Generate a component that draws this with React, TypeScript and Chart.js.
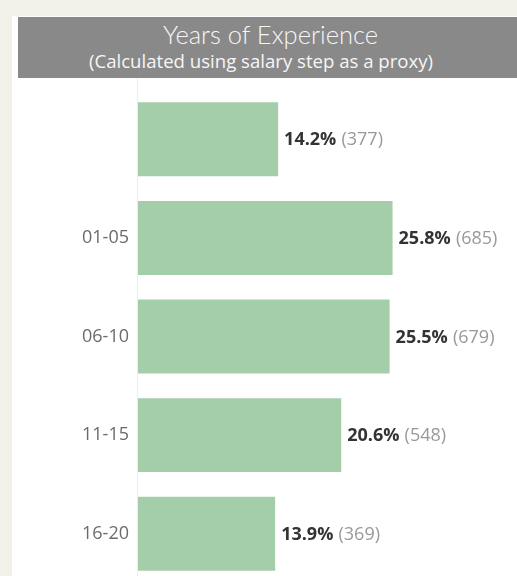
import React, { useEffect, useRef } from "react";
import { Chart, registerables } from "chart.js";

Chart.register(...registerables);

const categories = ["", "01-05", "06-10", "11-15", "16-20"];
const percentages = [14.2, 25.8, 25.5, 20.6, 13.9];
const counts = [377, 685, 679, 548, 369];
const titleText = "Years of Experience";
const subtitleText = "(Calculated using salary step as a proxy)";

const TITLE_FONT = "Lato, 'Open Sans', sans-serif";
const FONT = "'Open Sans', Lato, sans-serif";

export default function App() {
  const canvasRef = useRef<HTMLCanvasElement | null>(null);

  useEffect(() => {
    const canvas = canvasRef.current;
    if (!canvas) return;

    const axisLinePlugin = {
      id: "axisLine",
      beforeDatasetsDraw(chart: any) {
        const { ctx, chartArea } = chart;
        ctx.save();
        ctx.strokeStyle = "#ececec";
        ctx.lineWidth = 1;
        ctx.beginPath();
        const x = Math.round(chartArea.left) - 0.5;
        ctx.moveTo(x, 0);
        ctx.lineTo(x, chart.height);
        ctx.stroke();
        ctx.restore();
      },
    };

    const labelPlugin = {
      id: "barLabels",
      afterDatasetsDraw(chart: any) {
        const { ctx } = chart;
        const meta = chart.getDatasetMeta(0);
        ctx.save();
        ctx.textBaseline = "middle";
        ctx.textAlign = "left";
        meta.data.forEach((bar: any, i: number) => {
          const pct = percentages[i].toFixed(1) + "%";
          const cnt = "(" + counts[i] + ")";
          let x = bar.x + 6;
          const y = bar.y + 1;
          ctx.font = `bold 18px ${FONT}`;
          ctx.fillStyle = "#333333";
          ctx.fillText(pct, x, y);
          x += ctx.measureText(pct).width;
          ctx.font = `18px ${FONT}`;
          x += ctx.measureText(" ").width * 1.1;
          ctx.fillStyle = "#999999";
          ctx.fillText(cnt, x, y);
        });
        ctx.restore();
      },
    };

    const chart = new Chart(canvas, {
      type: "bar",
      data: {
        labels: categories,
        datasets: [
          {
            data: percentages,
            backgroundColor: "#a4cdaa",
            borderWidth: 0,
            barPercentage: 0.75,
            categoryPercentage: 1,
          },
        ],
      },
      options: {
        indexAxis: "y",
        animation: false,
        responsive: false,
        devicePixelRatio: 1,
        layout: { padding: { top: 12, bottom: 15, left: 0, right: 83 } },
        plugins: {
          legend: { display: false },
          tooltip: { enabled: false },
          title: { display: false },
        },
        scales: {
          x: {
            type: "linear",
            min: 0,
            max: 30,
            display: false,
          },
          y: {
            type: "category",
            grid: { display: false, drawTicks: false },
            border: { display: false },
            ticks: {
              color: "#6b6b6b",
              font: { family: FONT, size: 18 },
              padding: 9,
            },
            afterFit: (scale: any) => {
              scale.width = 126;
              scale.paddingTop = 0;
              scale.paddingBottom = 0;
            },
          },
        },
      },
      plugins: [axisLinePlugin, labelPlugin],
    });

    return () => chart.destroy();
  }, []);

  return (
    <div
      style={{
        position: "fixed",
        left: 0,
        top: 0,
        width: 517,
        height: 576,
        background: "#f2f1e9",
        overflow: "hidden",
        fontFamily: FONT,
      }}
    >
      <div
        style={{
          position: "absolute",
          left: 12,
          top: 16,
          width: 505,
          height: 560,
          background: "#ffffff",
        }}
      />
      <div
        style={{
          position: "absolute",
          left: 18,
          top: 17,
          width: 499,
          height: 61,
          background: "#898989",
          color: "#f6f6f6",
        }}
      >
        <div
          style={{
            position: "absolute",
            left: 252.5,
            top: 4.5,
            transform: "translateX(-50%)",
            fontFamily: TITLE_FONT,
            fontSize: 25.5,
            lineHeight: "25.5px",
            fontWeight: 300,
            whiteSpace: "nowrap",
          }}
        >
          {titleText}
        </div>
        <div
          style={{
            position: "absolute",
            left: 243,
            top: 34.5,
            transform: "translateX(-50%)",
            fontSize: 18.6,
            lineHeight: "18.6px",
            whiteSpace: "nowrap",
          }}
        >
          {subtitleText}
        </div>
      </div>
      <canvas
        ref={canvasRef}
        width={505}
        height={520}
        style={{ position: "absolute", left: 12, top: 78, width: 505, height: 520 }}
      />
    </div>
  );
}
